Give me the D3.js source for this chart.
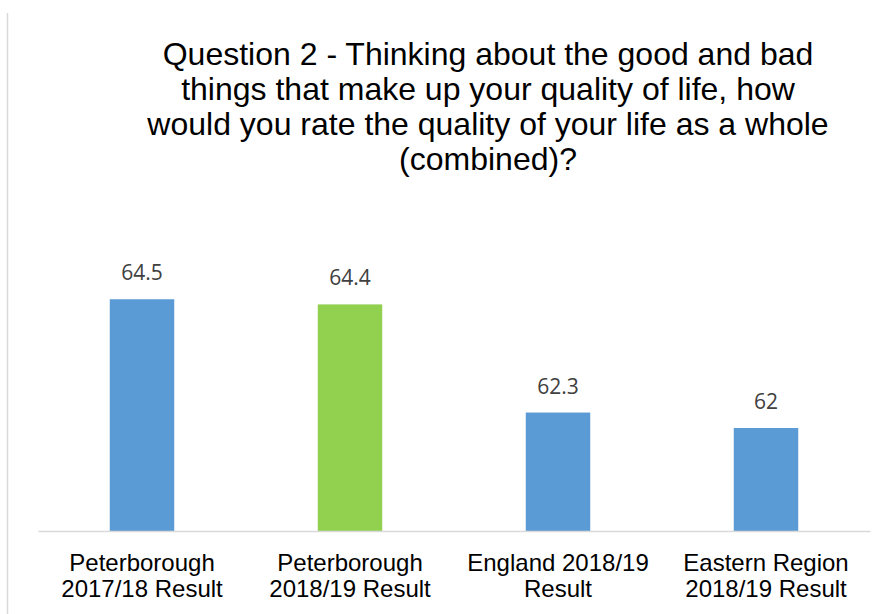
<!DOCTYPE html>
<html>
<head>
<meta charset="utf-8">
<script src="https://cdn.jsdelivr.net/npm/d3@7"></script>
<style>
  html, body { margin: 0; padding: 0; background: #fff; }
  svg { display: block; }
</style>
</head>
<body>
<svg id="chart" width="887" height="614"></svg>
<script>
// ---- data ----
const categories = ["Peterborough 2017/18 Result", "Peterborough 2018/19 Result", "England 2018/19 Result", "Eastern Region 2018/19 Result"];
const categoryLines = [["Peterborough", "2017/18 Result"], ["Peterborough", "2018/19 Result"], ["England 2018/19", "Result"], ["Eastern Region", "2018/19 Result"]];
const values = [64.5, 64.4, 62.3, 62];
const valueLabels = ["64.5", "64.4", "62.3", "62"];
const barColors = ["#5b9bd5", "#92d050", "#5b9bd5", "#5b9bd5"];
const titleLines = ["Question 2 - Thinking about the good and bad", "things that make up your quality of life, how", "would you rate the quality of your life as a whole", "(combined)?"];
const yDomain = [60, 66];

// ---- layout ----
const svg = d3.select("#chart");
const plot = { left: 38, right: 870, top: 222, bottom: 531 };

// chart border (left edge visible)
svg.append("line")
  .attr("x1", 7.5).attr("x2", 7.5).attr("y1", 13).attr("y2", 614)
  .attr("stroke", "#d9d9d9").attr("stroke-width", 1.5);

const x = d3.scaleBand().domain(categories).range([plot.left, plot.right]).paddingInner(0.69).paddingOuter(0.345);
const y = d3.scaleLinear().domain(yDomain).range([plot.bottom, plot.top]);

// title
const titleCx = 488;
const tg = svg.append("g").attr("transform", `translate(${titleCx},0)`);
tg.selectAll("text").data(titleLines).join("text")
  .attr("x", 0)
  .attr("y", (d, i) => 64.5 + i * 35)
  .attr("text-anchor", "middle")
  .attr("font-family", "Liberation Sans, Arial, sans-serif")
  .attr("font-size", 32)
  .attr("fill", "#000")
  .text(d => d);

// bars
svg.selectAll("rect.bar").data(values).join("rect")
  .attr("class", "bar")
  .attr("x", (d, i) => x(categories[i]))
  .attr("width", x.bandwidth())
  .attr("y", d => y(d))
  .attr("height", d => y(yDomain[0]) - y(d))
  .attr("fill", (d, i) => barColors[i]);

// value labels
svg.selectAll("text.val").data(values).join("text")
  .attr("class", "val")
  .attr("x", (d, i) => x(categories[i]) + x.bandwidth() / 2)
  .attr("y", d => y(d) - 19)
  .attr("text-anchor", "middle")
  .attr("font-family", "Open Sans, sans-serif")
  .attr("font-size", 21)
  .attr("fill", "#404040")
  .text((d, i) => valueLabels[i]);

// x axis
const axis = svg.append("g")
  .attr("transform", `translate(0,${plot.bottom})`)
  .call(d3.axisBottom(x).tickSize(0).tickSizeOuter(0).tickFormat(() => ""));
axis.select(".domain").attr("stroke", "#d9d9d9").attr("stroke-width", 1.5);

axis.selectAll(".tick").each(function(d, i) {
  const g = d3.select(this);
  g.selectAll("text.cat").data(categoryLines[i]).join("text")
    .attr("class", "cat")
    .attr("x", 0)
    .attr("y", (t, j) => 40 + j * 26)
    .attr("text-anchor", "middle")
    .attr("font-family", "Liberation Sans, Arial, sans-serif")
    .attr("font-size", 24)
    .attr("fill", "#000")
    .text(t => t);
});
</script>
</body>
</html>
